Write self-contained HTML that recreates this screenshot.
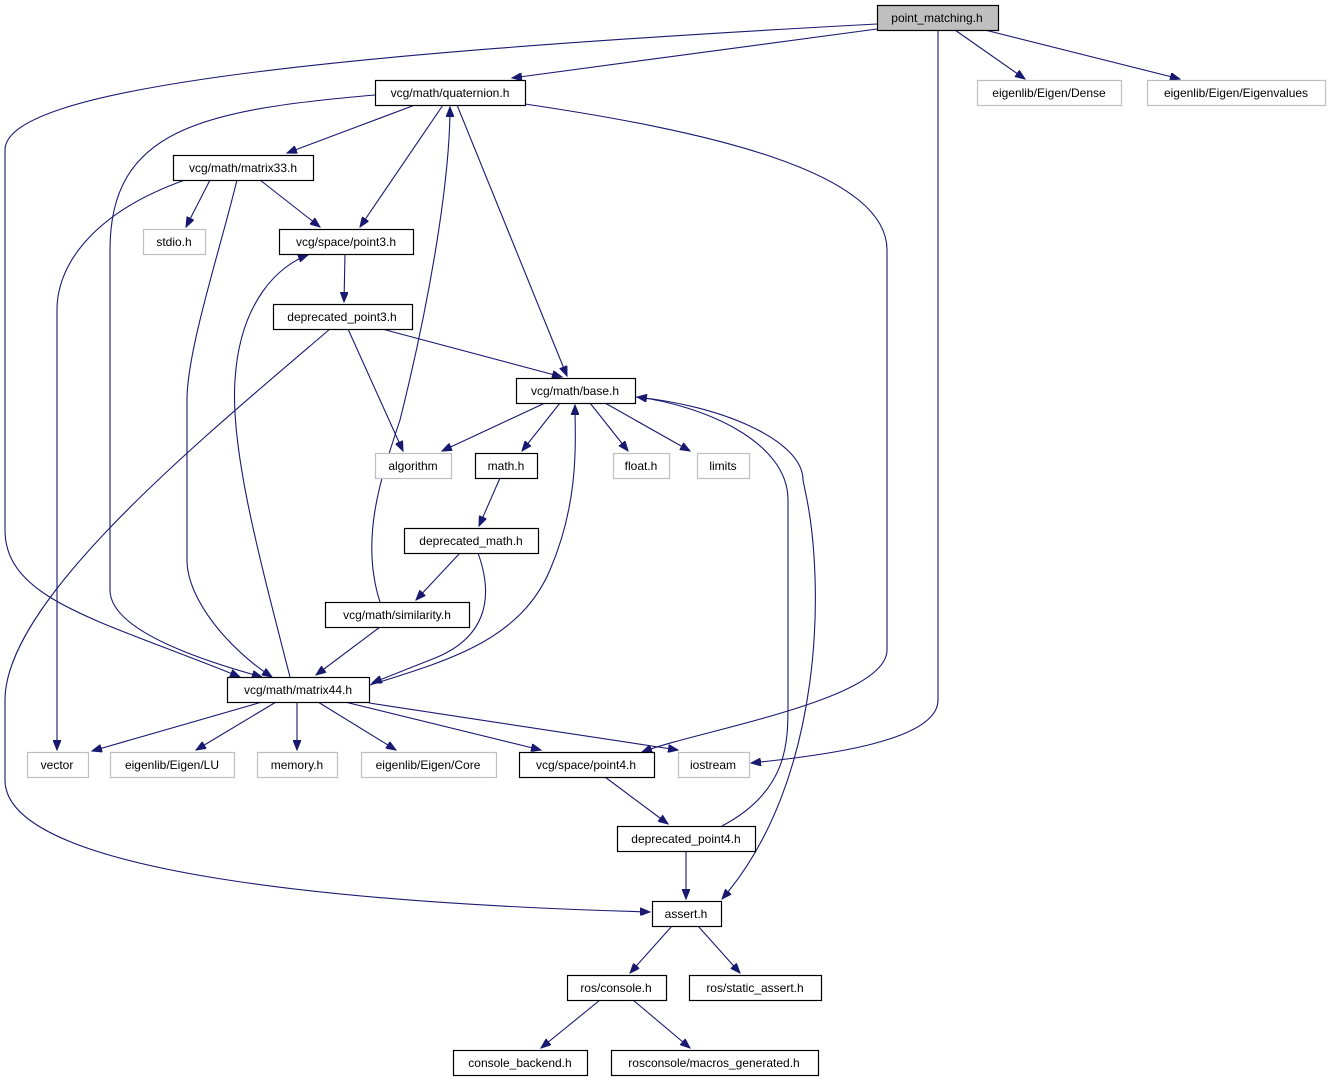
<!DOCTYPE html>
<html><head><meta charset="utf-8"><style>
html,body{margin:0;padding:0;background:#fff;}
svg{display:block;}
text{font-family:"Liberation Sans",sans-serif;font-size:12px;fill:#000;text-anchor:middle;}
.e{fill:none;stroke:#191970;stroke-width:1.1;marker-end:url(#a);}
.n{fill:#fff;stroke:#000;stroke-width:1.2;}
.g{fill:#fff;stroke:#bfbfbf;stroke-width:1.2;}
</style></head><body>
<svg width="1331" height="1083" viewBox="0 0 1331 1083" xmlns="http://www.w3.org/2000/svg">
<defs><marker id="a" markerWidth="11" markerHeight="8" refX="10" refY="4" orient="auto" markerUnits="userSpaceOnUse"><path d="M0,0 L10,4 L0,8 Z" fill="#191970" stroke="#191970"/></marker></defs>
<g>
<path class="e" d="M877,24 C300,55 5,90 5,150 L5,530 C5,600 100,620 240,677"/>
<path class="e" d="M877,29 L512,78"/>
<path class="e" d="M938,30 L938,700 C938,740 830,755 751,763"/>
<path class="e" d="M955,30 L1025,79"/>
<path class="e" d="M985,30 L1180,79"/>
<path class="e" d="M415,105 L287,153"/>
<path class="e" d="M443,105 L360,227"/>
<path class="e" d="M457,105 L567,376"/>
<path class="e" d="M375,95 C200,110 110,130 110,250 L110,590 C110,630 200,660 262,677"/>
<path class="e" d="M525,104 C700,130 887,170 887,250 L887,650 C887,700 700,730 642,752"/>
<path class="e" d="M210,180 L186,227"/>
<path class="e" d="M260,180 L320,227"/>
<path class="e" d="M185,180 C100,210 57,260 57,310 L57,750"/>
<path class="e" d="M237,180 C220,250 187,350 187,400 L187,560 C187,600 230,650 272,677"/>
<path class="e" d="M345,254 L344,302"/>
<path class="e" d="M382,329 L562,377"/>
<path class="e" d="M348,329 L403,451"/>
<path class="e" d="M330,329 C200,440 5,600 5,700 L5,780 C5,880 400,905 650,912"/>
<path class="e" d="M545,403 L442,451"/>
<path class="e" d="M560,403 L522,451"/>
<path class="e" d="M590,403 L628,451"/>
<path class="e" d="M605,403 L690,451"/>
<path class="e" d="M635,397 C720,405 803,440 803,480 L805,490 C825,580 825,780 722,899"/>
<path class="e" d="M370,685 C450,660 520,640 550,570 C580,500 575,440 575,405"/>
<path class="e" d="M500,478 L479,526"/>
<path class="e" d="M460,553 L416,600"/>
<path class="e" d="M478,553 C495,600 485,640 430,660 L372,683"/>
<path class="e" d="M380,602 C360,540 380,480 400,420 C430,300 450,180 450,107"/>
<path class="e" d="M380,627 L316,675"/>
<path class="e" d="M290,677 C260,560 230,450 235,380 C240,300 280,265 308,255"/>
<path class="e" d="M262,702 L92,751"/>
<path class="e" d="M276,702 L196,750"/>
<path class="e" d="M297,702 L297,750"/>
<path class="e" d="M318,702 L396,750"/>
<path class="e" d="M345,702 L541,750"/>
<path class="e" d="M369,703 L678,750"/>
<path class="e" d="M605,777 L668,824"/>
<path class="e" d="M722,826 C790,790 788,740 788,700 L788,500 C788,440 700,405 637,397"/>
<path class="e" d="M686,851 L686,899"/>
<path class="e" d="M672,926 L630,973"/>
<path class="e" d="M698,926 L740,973"/>
<path class="e" d="M600,1000 L541,1048"/>
<path class="e" d="M633,1000 L690,1048"/>
</g>
<g>
<rect x="877.5" y="5.5" width="121" height="25" fill="#bfbfbf" stroke="#000" stroke-width="1.2"/><text x="937" y="22">point_matching.h</text>
<rect class="n" x="375.5" y="80.5" width="150" height="25"/><text x="450" y="97">vcg/math/quaternion.h</text>
<rect class="g" x="977.5" y="80.5" width="144" height="25"/><text x="1049" y="97">eigenlib/Eigen/Dense</text>
<rect class="g" x="1147.5" y="80.5" width="178" height="25"/><text x="1236" y="97">eigenlib/Eigen/Eigenvalues</text>
<rect class="n" x="173.5" y="155.5" width="140" height="25"/><text x="243" y="172">vcg/math/matrix33.h</text>
<rect class="g" x="143.5" y="229.5" width="62" height="25"/><text x="174" y="246">stdio.h</text>
<rect class="n" x="279.5" y="229.5" width="134" height="25"/><text x="346" y="246">vcg/space/point3.h</text>
<rect class="n" x="273.5" y="304.5" width="139" height="25"/><text x="342" y="321">deprecated_point3.h</text>
<rect class="n" x="516.5" y="378.5" width="119" height="25"/><text x="575" y="395">vcg/math/base.h</text>
<rect class="g" x="375.5" y="453.5" width="76" height="25"/><text x="413" y="470">algorithm</text>
<rect class="n" x="475.5" y="453.5" width="62" height="25"/><text x="506" y="470">math.h</text>
<rect class="g" x="613.5" y="453.5" width="56" height="25"/><text x="641" y="470">float.h</text>
<rect class="g" x="697.5" y="453.5" width="52" height="25"/><text x="723" y="470">limits</text>
<rect class="n" x="404.5" y="528.5" width="134" height="25"/><text x="471" y="545">deprecated_math.h</text>
<rect class="n" x="325.5" y="602.5" width="144" height="25"/><text x="397" y="619">vcg/math/similarity.h</text>
<rect class="n" x="227.5" y="677.5" width="142" height="25"/><text x="298" y="694">vcg/math/matrix44.h</text>
<rect class="g" x="27.5" y="752.5" width="61" height="25"/><text x="57" y="769">vector</text>
<rect class="g" x="110.5" y="752.5" width="124" height="25"/><text x="172" y="769">eigenlib/Eigen/LU</text>
<rect class="g" x="257.5" y="752.5" width="80" height="25"/><text x="297" y="769">memory.h</text>
<rect class="g" x="361.5" y="752.5" width="135" height="25"/><text x="428" y="769">eigenlib/Eigen/Core</text>
<rect class="n" x="519.5" y="752.5" width="135" height="25"/><text x="586" y="769">vcg/space/point4.h</text>
<rect class="g" x="678.5" y="752.5" width="71" height="25"/><text x="713" y="769">iostream</text>
<rect class="n" x="617.5" y="826.5" width="138" height="25"/><text x="686" y="843">deprecated_point4.h</text>
<rect class="n" x="652.5" y="901.5" width="69" height="25"/><text x="686" y="918">assert.h</text>
<rect class="n" x="567.5" y="975.5" width="99" height="25"/><text x="616" y="992">ros/console.h</text>
<rect class="n" x="689.5" y="975.5" width="132" height="25"/><text x="755" y="992">ros/static_assert.h</text>
<rect class="n" x="453.5" y="1050.5" width="134" height="25"/><text x="520" y="1067">console_backend.h</text>
<rect class="n" x="611.5" y="1050.5" width="207" height="25"/><text x="714" y="1067">rosconsole/macros_generated.h</text>
</g>
</svg>
</body></html>
